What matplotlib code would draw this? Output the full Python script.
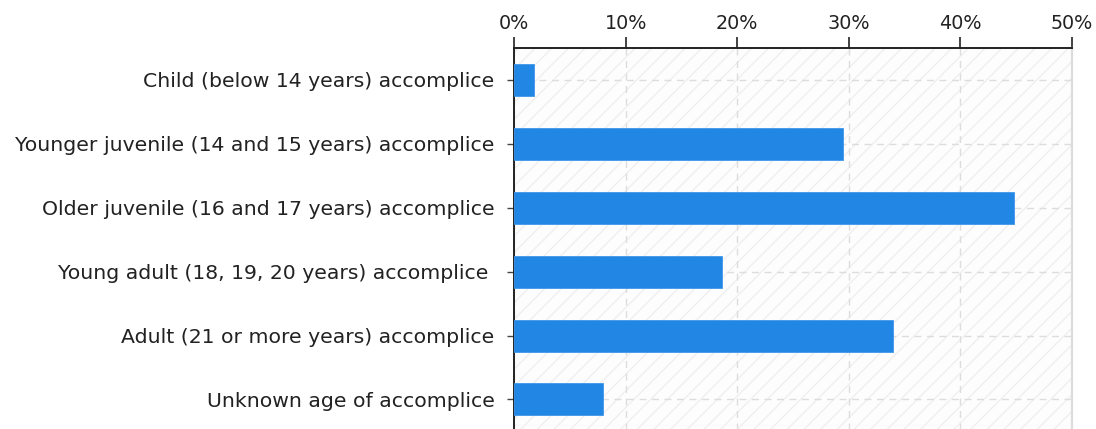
import matplotlib
matplotlib.use("Agg")
import matplotlib.pyplot as plt
import matplotlib.patches as mpatches
from matplotlib.ticker import FuncFormatter

# Data
categories = [
    "Child (below 14 years) accomplice",
    "Younger juvenile (14 and 15 years) accomplice",
    "Older juvenile (16 and 17 years) accomplice",
    "Young adult (18, 19, 20 years) accomplice ",
    "Adult (21 or more years) accomplice",
    "Unknown age of accomplice",
]
shares = [1.8, 29.5, 44.8, 18.6, 34.0, 8.0]
x_ticks = [0, 10, 20, 30, 40, 50]

BAR_COLOR = "#2287e4"

fig = plt.figure(figsize=(10.96, 4.29), dpi=100)
ax = fig.add_axes([514 / 1096, -0.01, (1072 - 514) / 1096, (429 - 48) / 429 + 0.01])

# hatched background
bg = mpatches.Rectangle((0, 0), 1, 1, transform=ax.transAxes,
                        facecolor="#fdfdfd", edgecolor="#efefef",
                        hatch="//", linewidth=0, zorder=0)
ax.add_patch(bg)

y = list(range(len(categories)))
ax.barh(y, shares, height=0.5, color=BAR_COLOR, edgecolor="#3f97ea",
        linewidth=0.6, zorder=3)

ax.set_xlim(0, 50)
ax.set_ylim(len(categories) - 0.5 + 0.03, -0.5)

ax.set_yticks(y)
ax.set_yticklabels(categories, fontsize=14.7, color="#222222")
ax.set_xticks(x_ticks)
ax.xaxis.set_major_formatter(FuncFormatter(lambda v, p: f"{v:.0f}%"))
ax.xaxis.tick_top()
ax.tick_params(axis="x", direction="out", length=8, width=1.2, colors="#222222",
               labelsize=13.8, pad=3)
ax.tick_params(axis="y", direction="out", length=5, width=1, color="#444444",
               pad=9)

ax.grid(True, color="#dddddd", linestyle=(0, (5, 4)), linewidth=1, zorder=1)
ax.set_axisbelow(True)

ax.spines["top"].set_color("#222222")
ax.spines["top"].set_linewidth(1.4)
ax.spines["left"].set_color("#222222")
ax.spines["left"].set_linewidth(1.4)
ax.spines["right"].set_color("#dcdcdc")
ax.spines["right"].set_linewidth(1.6)
ax.spines["bottom"].set_visible(False)

fig.savefig("out.png", dpi=100)
